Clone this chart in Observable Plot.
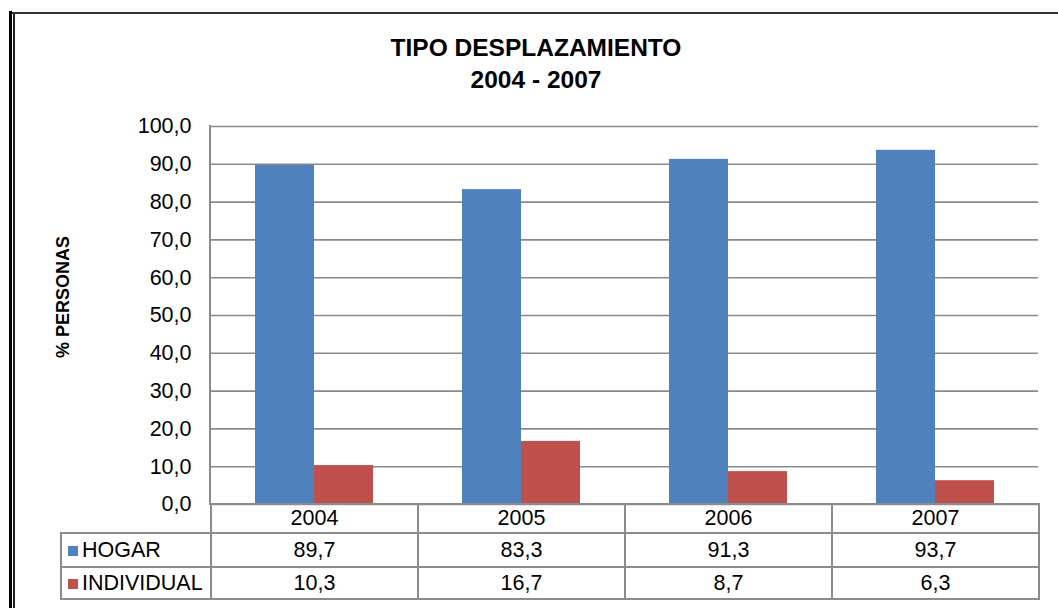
<!DOCTYPE html>
<html><head><meta charset="utf-8">
<script src="https://cdn.jsdelivr.net/npm/d3@7"></script>
<script src="https://cdn.jsdelivr.net/npm/@observablehq/plot@0.6"></script>
<style>
body{margin:0;background:#fff;font-family:"Liberation Sans",Arial,sans-serif;color:#000;}
#wrap{position:relative;width:1058px;height:608px;overflow:hidden;background:#fff;}
#wrap svg{position:absolute;left:0;top:0;}
.title{position:absolute;left:14px;right:0;top:32px;text-align:center;font-weight:bold;font-size:24.5px;line-height:32px;}
.ylab{position:absolute;left:63px;top:297px;transform:translate(-50%,-50%) rotate(-90deg);font-weight:bold;font-size:18px;white-space:nowrap;}
.frameL1{position:absolute;left:9px;top:11px;width:3px;bottom:0;background:#000;}
.frameL2{position:absolute;left:13px;top:13px;width:1.5px;bottom:0;background:#222;}
.frameT{position:absolute;left:12px;top:12px;right:0;height:2px;background:#333;}
table.dt{position:absolute;border-collapse:collapse;table-layout:fixed;font-size:21.5px;}
table.dt td{border:2px solid #8c8c8c;padding:0;text-align:center;vertical-align:middle;white-space:nowrap;}
table.dt td.blank{border:none;}
table.dt td.leg{text-align:left;padding-left:6px;}
.sw{display:inline-block;width:10px;height:10px;margin-right:4px;vertical-align:1px;}
.axline{position:absolute;width:2px;background:#8c8c8c;}
</style></head><body><div id="wrap"></div>
<script>
const years = ["2004", "2005", "2006", "2007"];
const series = ["HOGAR", "INDIVIDUAL"];
const hogar = [89.7, 83.3, 91.3, 93.7];
const individual = [10.3, 16.7, 8.7, 6.3];
const colors = ["#4F81BD", "#C0504D"];
const yTicks = [0, 10, 20, 30, 40, 50, 60, 70, 80, 90, 100];
const titleLines = ["TIPO DESPLAZAMIENTO", "2004 - 2007"];
const yLabel = "% PERSONAS";

const values = {HOGAR: hogar, INDIVIDUAL: individual};
const data = years.flatMap((yr, i) => series.map(s => ({year: yr, series: s, value: values[s][i]})));
const fmt = v => v.toFixed(1).replace(".", ",");

const chart = Plot.plot({
  width: 1058, height: 608,
  marginLeft: 210, marginRight: 20, marginTop: 126, marginBottom: 104,
  style: {fontFamily: "'Liberation Sans', Arial, sans-serif", fontSize: "21.5px", color: "#000", background: "transparent", overflow: "visible"},
  fx: {domain: years, padding: 0, axis: null},
  x: {domain: series, paddingInner: 0, paddingOuter: 0.735, axis: null},
  y: {domain: [0, 100]},
  color: {domain: series, range: colors},
  marks: [
    Plot.gridY(yTicks, {stroke: "#8a8a8a", strokeOpacity: 1, strokeWidth: 1.6}),
    Plot.barY(data, {fx: "year", x: "series", y: "value", fill: "series"}),
    Plot.axisY(yTicks, {tickSize: 0, tickPadding: 19, tickFormat: fmt, label: null, fill: "#000"})
  ]
});

const wrap = document.getElementById("wrap");
wrap.appendChild(chart);

// outer frame
["frameL1", "frameL2", "frameT"].forEach(c => { const d = document.createElement("div"); d.className = c; wrap.appendChild(d); });

// title
const t = document.createElement("div");
t.className = "title";
t.innerHTML = titleLines.join("<br>");
wrap.appendChild(t);

// y label
const yl = document.createElement("div");
yl.className = "ylab";
yl.textContent = yLabel;
wrap.appendChild(yl);

// scales
const fxs = chart.scale("fx");
const ys = chart.scale("y");
const x0 = fxs.apply(years[0]);
const bw = fxs.bandwidth;
const yTop = ys.apply(100), yBot = ys.apply(0);

// left axis line
const al = document.createElement("div");
al.className = "axline";
al.style.left = (x0 - 1) + "px";
al.style.top = (yTop - 1) + "px";
al.style.height = (yBot - yTop + 2) + "px";
wrap.appendChild(al);

// data table
const legW = 150;
const tbl = document.createElement("table");
tbl.className = "dt";
tbl.style.left = (x0 - legW) + "px";
tbl.style.top = (yBot - 1) + "px";
let html = `<colgroup><col style="width:${legW}px">` + years.map(() => `<col style="width:${bw}px">`).join("") + `</colgroup>`;
html += `<tr style="height:29px"><td class="blank"></td>` + years.map(y => `<td>${y}</td>`).join("") + `</tr>`;
const rowH = [34, 32];
series.forEach((s, si) => {
  html += `<tr style="height:${rowH[si]}px"><td class="leg"><span class="sw" style="background:${colors[si]}"></span>${s}</td>` +
    values[s].map(v => `<td>${fmt(v)}</td>`).join("") + `</tr>`;
});
tbl.innerHTML = html;
wrap.appendChild(tbl);
</script>
</body></html>
